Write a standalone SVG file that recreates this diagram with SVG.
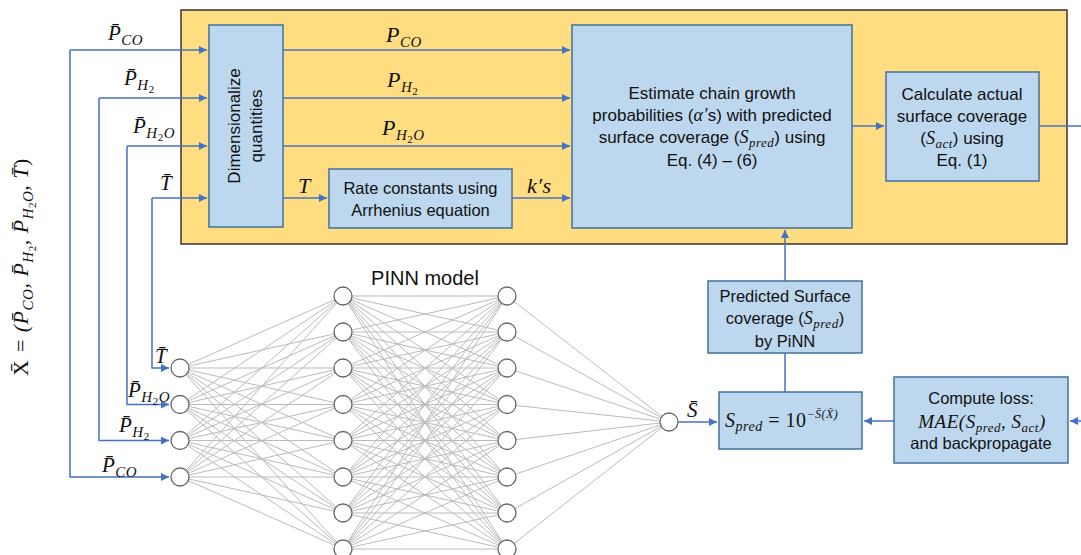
<svg xmlns="http://www.w3.org/2000/svg" width="1081" height="555" viewBox="0 0 1081 555">
  <style>
    .box { fill: #BDD7EE; stroke: #41719C; stroke-width: 1.5; }
    .frame { fill: #FFDD80; stroke: #333333; stroke-width: 1.5; }
    .wire { fill: none; stroke: #4472C4; stroke-width: 1.5; }
    .arrow { fill: none; stroke: #4472C4; stroke-width: 1.5; marker-end: url(#head); }
    .edge { fill: none; stroke: #BBBBBB; stroke-width: 1; }
    .neuron { fill: #FFFFFF; stroke: #666666; stroke-width: 1.3; }
    .t { font-family: "Liberation Sans", Arial, sans-serif; font-size: 16.5px; fill: #111111; text-anchor: middle; }
    .big { font-size: 17px; }
    .title { font-size: 20px; }
    .m { font-family: "Liberation Serif", "Times New Roman", serif; font-style: italic; fill: #111111; letter-spacing: 0.5px; }
    .up { font-style: normal; }
  </style>
  <defs>
    <marker id="head" viewBox="0 0 10 10" refX="10" refY="5" markerUnits="userSpaceOnUse" markerWidth="9" markerHeight="8" orient="auto">
      <path d="M0,0 L10,5 L0,10 z" fill="#4472C4"/>
    </marker>
  </defs>

  <!-- physics block background -->
  <rect id="physics-frame" class="frame" x="181" y="10" width="886" height="234"/>

  <!-- neural network edges -->
  <g id="pinn-edges">
    <path class="edge" d="M180 368L343 296M180 368L343 332M180 368L343 368M180 368L343 404.5M180 368L343 440.5M180 368L343 477M180 368L343 513M180 368L343 549
      M180 404.5L343 296M180 404.5L343 332M180 404.5L343 368M180 404.5L343 404.5M180 404.5L343 440.5M180 404.5L343 477M180 404.5L343 513M180 404.5L343 549
      M180 440.5L343 296M180 440.5L343 332M180 440.5L343 368M180 440.5L343 404.5M180 440.5L343 440.5M180 440.5L343 477M180 440.5L343 513M180 440.5L343 549
      M180 477L343 296M180 477L343 332M180 477L343 368M180 477L343 404.5M180 477L343 440.5M180 477L343 477M180 477L343 513M180 477L343 549"/>
    <path class="edge" d="M343 296L507 296M343 296L507 332M343 296L507 368M343 296L507 404.5M343 296L507 440.5M343 296L507 477M343 296L507 513M343 296L507 549
      M343 332L507 296M343 332L507 332M343 332L507 368M343 332L507 404.5M343 332L507 440.5M343 332L507 477M343 332L507 513M343 332L507 549
      M343 368L507 296M343 368L507 332M343 368L507 368M343 368L507 404.5M343 368L507 440.5M343 368L507 477M343 368L507 513M343 368L507 549
      M343 404.5L507 296M343 404.5L507 332M343 404.5L507 368M343 404.5L507 404.5M343 404.5L507 440.5M343 404.5L507 477M343 404.5L507 513M343 404.5L507 549
      M343 440.5L507 296M343 440.5L507 332M343 440.5L507 368M343 440.5L507 404.5M343 440.5L507 440.5M343 440.5L507 477M343 440.5L507 513M343 440.5L507 549
      M343 477L507 296M343 477L507 332M343 477L507 368M343 477L507 404.5M343 477L507 440.5M343 477L507 477M343 477L507 513M343 477L507 549
      M343 513L507 296M343 513L507 332M343 513L507 368M343 513L507 404.5M343 513L507 440.5M343 513L507 477M343 513L507 513M343 513L507 549
      M343 549L507 296M343 549L507 332M343 549L507 368M343 549L507 404.5M343 549L507 440.5M343 549L507 477M343 549L507 513M343 549L507 549"/>
    <path class="edge" d="M507 296L669 422M507 332L669 422M507 368L669 422M507 404.5L669 422M507 440.5L669 422M507 477L669 422M507 513L669 422M507 549L669 422"/>
  </g>

  <!-- neurons -->
  <g id="input-layer">
    <circle class="neuron" cx="180" cy="368" r="9"/>
    <circle class="neuron" cx="180" cy="404.5" r="9"/>
    <circle class="neuron" cx="180" cy="440.5" r="9"/>
    <circle class="neuron" cx="180" cy="477" r="9"/>
  </g>
  <g id="hidden-layer-1">
    <circle class="neuron" cx="343" cy="296" r="9"/>
    <circle class="neuron" cx="343" cy="332" r="9"/>
    <circle class="neuron" cx="343" cy="368" r="9"/>
    <circle class="neuron" cx="343" cy="404.5" r="9"/>
    <circle class="neuron" cx="343" cy="440.5" r="9"/>
    <circle class="neuron" cx="343" cy="477" r="9"/>
    <circle class="neuron" cx="343" cy="513" r="9"/>
    <circle class="neuron" cx="343" cy="549" r="9"/>
  </g>
  <g id="hidden-layer-2">
    <circle class="neuron" cx="507" cy="296" r="9"/>
    <circle class="neuron" cx="507" cy="332" r="9"/>
    <circle class="neuron" cx="507" cy="368" r="9"/>
    <circle class="neuron" cx="507" cy="404.5" r="9"/>
    <circle class="neuron" cx="507" cy="440.5" r="9"/>
    <circle class="neuron" cx="507" cy="477" r="9"/>
    <circle class="neuron" cx="507" cy="513" r="9"/>
    <circle class="neuron" cx="507" cy="549" r="9"/>
  </g>
  <g id="output-neuron">
    <circle class="neuron" cx="669" cy="422" r="9"/>
  </g>
  <text id="pinn-title" class="t title" x="425" y="285">PINN model</text>

  <!-- connectors -->
  <g id="connectors">
    <!-- dimensionless inputs fan out to the physics block and the network -->
    <path class="arrow" d="M70 50H207"/>
    <path class="arrow" d="M70 50V477H169"/>
    <path class="arrow" d="M99 98H207"/>
    <path class="arrow" d="M99 98V440.5H169"/>
    <path class="arrow" d="M127 146H207"/>
    <path class="arrow" d="M127 146V404.5H169"/>
    <path class="arrow" d="M152 198H207"/>
    <path class="arrow" d="M152 198V368H169"/>
    <!-- physics block internals -->
    <path class="arrow" d="M283 50H570"/>
    <path class="arrow" d="M283 98H570"/>
    <path class="arrow" d="M283 146H570"/>
    <path class="arrow" d="M283 198H327"/>
    <path class="arrow" d="M512 198H570"/>
    <path class="arrow" d="M852 126H884"/>
    <path class="wire" d="M1039 126H1081"/>
    <!-- loss loop back -->
    <path class="arrow" d="M1081 421H1070"/>
    <path class="arrow" d="M894 421H864"/>
    <path class="arrow" d="M678 422H717"/>
    <path class="wire" d="M785 353V392"/>
    <path class="arrow" d="M785 281V230"/>
  </g>

  <!-- input variable labels -->
  <g id="input-labels" font-size="21">
    <text class="m" x="108" y="40">P̄<tspan font-size="15" dy="5">CO</tspan></text>
    <text class="m" x="124" y="85">P̄<tspan font-size="15" dy="5">H</tspan><tspan class="up" font-size="11" dy="3">2</tspan></text>
    <text class="m" x="133" y="133">P̄<tspan font-size="15" dy="5">H</tspan><tspan class="up" font-size="11" dy="3">2</tspan><tspan font-size="15" dy="-3">O</tspan></text>
    <text class="m" x="160" y="190">T̄</text>
    <text class="m" x="155" y="363">T̄</text>
    <text class="m" x="128" y="397">P̄<tspan font-size="15" dy="5">H</tspan><tspan class="up" font-size="11" dy="3">2</tspan><tspan font-size="15" dy="-3">O</tspan></text>
    <text class="m" x="119" y="432">P̄<tspan font-size="15" dy="5">H</tspan><tspan class="up" font-size="11" dy="3">2</tspan></text>
    <text class="m" x="102" y="472">P̄<tspan font-size="15" dy="5">CO</tspan></text>
  </g>
  <text id="input-vector" class="m" font-size="22" text-anchor="middle" transform="translate(28,267) rotate(-90)"><tspan class="up">X̄</tspan> = (P̄<tspan font-size="15" dy="5">CO</tspan><tspan dy="-5">, P̄</tspan><tspan font-size="15" dy="5">H</tspan><tspan class="up" font-size="11" dy="3">2</tspan><tspan dy="-8">, P̄</tspan><tspan font-size="15" dy="5">H</tspan><tspan class="up" font-size="11" dy="3">2</tspan><tspan font-size="15" dy="-3">O</tspan><tspan dy="-5">, T̄</tspan><tspan class="up">)</tspan></text>

  <!-- physics block labels -->
  <g id="physics-labels" font-size="22">
    <text class="m" x="386" y="42">P<tspan font-size="15" dy="5">CO</tspan></text>
    <text class="m" x="387" y="87">P<tspan font-size="15" dy="5">H</tspan><tspan class="up" font-size="11" dy="3">2</tspan></text>
    <text class="m" x="382" y="135">P<tspan font-size="15" dy="5">H</tspan><tspan class="up" font-size="11" dy="3">2</tspan><tspan font-size="15" dy="-3">O</tspan></text>
    <text class="m" x="298" y="193">T</text>
    <text class="m" x="527" y="193">k′s</text>
  </g>

  <g id="dimensionalize">
    <rect class="box" x="209" y="25" width="74" height="202"/>
    <text class="t big" transform="translate(240,126) rotate(-90)">Dimensionalize</text>
    <text class="t big" transform="translate(262,126) rotate(-90)">quantities</text>
  </g>

  <g id="rate-constants">
    <rect class="box" x="329" y="169" width="183" height="59"/>
    <text class="t" x="420.5" y="194">Rate constants using</text>
    <text class="t" x="420.5" y="216">Arrhenius equation</text>
  </g>

  <g id="estimate-alpha">
    <rect class="box" x="572" y="25" width="280" height="203"/>
    <text class="t big" x="712" y="99">Estimate chain growth</text>
    <text class="t big" x="712" y="121">probabilities (<tspan class="m" font-size="18">α′</tspan>s) with predicted</text>
    <text class="t big" x="712" y="143">surface coverage (<tspan class="m" font-size="18">S</tspan><tspan class="m" font-size="13" dy="4">pred</tspan><tspan dy="-4">) using</tspan></text>
    <text class="t big" x="712" y="166">Eq. (4) – (6)</text>
  </g>

  <g id="actual-coverage">
    <rect class="box" x="886" y="72" width="153" height="109"/>
    <text class="t big" x="962" y="100">Calculate actual</text>
    <text class="t big" x="962" y="122">surface coverage</text>
    <text class="t big" x="962" y="144">(<tspan class="m" font-size="18">S</tspan><tspan class="m" font-size="13" dy="4">act</tspan><tspan dy="-4">) using</tspan></text>
    <text class="t big" x="962" y="166">Eq. (1)</text>
  </g>

  <g id="predicted-coverage">
    <rect class="box" x="708" y="281" width="154" height="72"/>
    <text class="t" x="785" y="302">Predicted Surface</text>
    <text class="t" x="785" y="324">coverage (<tspan class="m" font-size="18">S</tspan><tspan class="m" font-size="13" dy="4">pred</tspan><tspan dy="-4">)</tspan></text>
    <text class="t" x="785" y="347">by PiNN</text>
  </g>

  <g id="coverage-transform">
    <rect class="box" x="719" y="392" width="143" height="57"/>
    <text class="m" x="725" y="427" font-size="20">S<tspan font-size="14" dy="4">pred</tspan><tspan class="up" dy="-4"> = 10</tspan><tspan font-size="12" dy="-9">−S̄(X̄)</tspan></text>
  </g>

  <g id="compute-loss">
    <rect class="box" x="894" y="377" width="174" height="86"/>
    <text class="t" x="981" y="404">Compute loss:</text>
    <text class="m" x="982" y="428" font-size="19" text-anchor="middle" letter-spacing="1">MAE(S<tspan font-size="13" dy="4">pred</tspan><tspan dy="-4">, S</tspan><tspan font-size="13" dy="4">act</tspan><tspan dy="-4">)</tspan></text>
    <text class="t" x="981" y="449">and backpropagate</text>
  </g>

  <text id="output-label" class="m" x="687" y="417" font-size="21">S̄</text>
</svg>
